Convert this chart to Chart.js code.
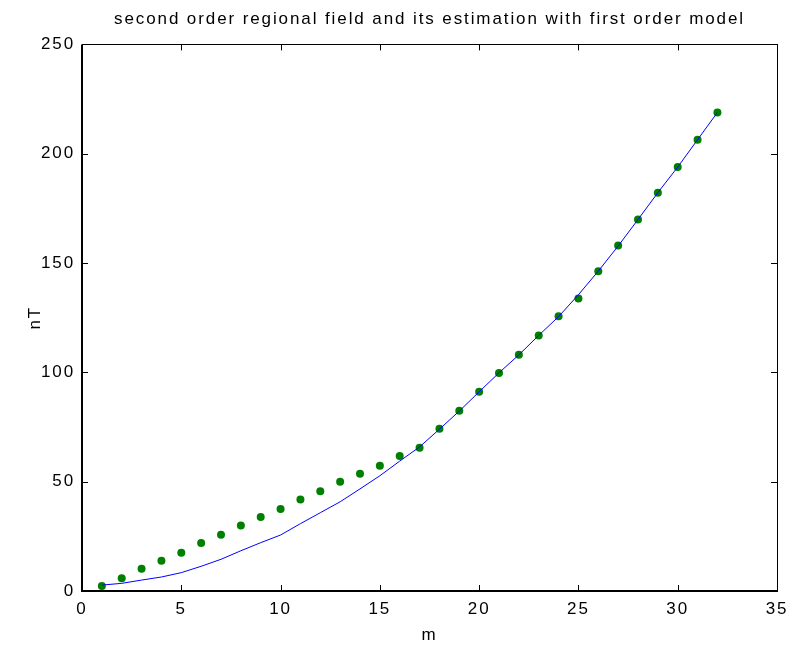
<!DOCTYPE html>
<html>
<head>
<meta charset="utf-8">
<script src="https://cdn.jsdelivr.net/npm/chart.js@4"></script>
<style>
  html, body { margin: 0; padding: 0; background: #fff; }
  #wrap { width: 789px; height: 646px; }
</style>
</head>
<body>
<div id="wrap"><canvas id="c" width="789" height="646"></canvas></div>
<script>
// ---- data ----
const titleText = "second order regional field and its estimation with first order model";
const xLabel = "m";
const yLabel = "nT";
const positions = [1,2,3,4,5,6,7,8,9,10,11,12,13,14,15,16,17,18,19,20,21,22,23,24,25,26,27,28,29,30,31,32];
const regionalField = [2.7,3.5,5.0,6.4,8.4,11.3,14.5,18.4,22.1,25.6,30.8,35.8,40.8,46.7,52.7,59.4,65.9,74.0,82.3,91.1,99.8,108.0,116.9,125.5,135.5,146.3,157.8,169.9,182.2,193.9,206.4,218.9];
const estimation = [2.3,5.8,10.2,13.8,17.5,21.9,25.7,30.0,33.8,37.5,41.9,45.6,50.0,53.6,57.3,61.7,65.5,74.2,82.4,91.1,99.7,108.0,116.9,125.7,133.8,146.3,158.0,169.9,182.2,193.9,206.4,218.9];
const xTicks = [0,5,10,15,20,25,30,35];
const yTicks = [0,50,100,150,200,250];

const FONT = "'Liberation Sans', Arial, Helvetica, sans-serif";
const SPACING = '1.9px';

const spacing = {
  id: 'spacing',
  beforeInit(chart) { chart.ctx.letterSpacing = SPACING; },
  beforeLayout(chart) { chart.ctx.letterSpacing = SPACING; },
  afterLayout(chart) {
    // centre the title over the plot area
    if (chart.titleBlock) {
      chart.titleBlock.left = chart.chartArea.left;
      chart.titleBlock.right = chart.chartArea.right;
    }
  },
  beforeDraw(chart) { chart.ctx.letterSpacing = SPACING; }
};

const boxTicks = {
  id: 'boxTicks',
  afterDraw(chart) {
    const {ctx, chartArea: a, scales} = chart;
    ctx.save();
    ctx.strokeStyle = '#000';
    ctx.lineWidth = 1;
    ctx.beginPath();
    const L = 6;
    xTicks.forEach(v => {
      const px = Math.round(scales.x.getPixelForValue(v)) + 0.5;
      ctx.moveTo(px, a.bottom); ctx.lineTo(px, a.bottom - L);
      ctx.moveTo(px, a.top); ctx.lineTo(px, a.top + L);
    });
    yTicks.forEach(v => {
      const py = Math.round(scales.y.getPixelForValue(v)) + 0.5;
      ctx.moveTo(a.left, py); ctx.lineTo(a.left + L, py);
      ctx.moveTo(a.right, py); ctx.lineTo(a.right - L, py);
    });
    ctx.stroke();
    ctx.strokeRect(Math.round(a.left) + 0.5, Math.round(a.top) + 0.5, Math.round(a.right - a.left), Math.round(a.bottom - a.top));
    ctx.lineWidth = 2;
    ctx.beginPath();
    ctx.moveTo(Math.round(a.left), a.top);
    ctx.lineTo(Math.round(a.left), a.bottom);
    ctx.lineTo(a.right, a.bottom);
    ctx.stroke();
    ctx.restore();
  }
};

new Chart(document.getElementById('c'), {
  type: 'scatter',
  data: {
    datasets: [
      {
        type: 'line',
        label: 'regional field',
        data: positions.map((x, i) => ({x, y: regionalField[i]})),
        borderColor: '#0000ff',
        borderWidth: 1,
        pointRadius: 0,
        fill: false,
        tension: 0
      },
      {
        label: 'estimation',
        data: positions.map((x, i) => ({x, y: estimation[i]})),
        backgroundColor: '#008000',
        borderColor: '#008000',
        pointRadius: 4,
        pointBorderWidth: 0
      }
    ]
  },
  options: {
    responsive: false,
    animation: false,
    devicePixelRatio: 1,
    layout: { padding: { left: 0, right: 12, top: 0, bottom: 0 } },
    plugins: {
      legend: { display: false },
      tooltip: { enabled: false },
      title: {
        display: true,
        text: titleText,
        color: '#000',
        font: { family: FONT, size: 17, weight: 'normal' },
        padding: { top: 9, bottom: 15 }
      }
    },
    scales: {
      x: {
        type: 'linear',
        min: 0, max: 35,
        afterBuildTicks(s) { s.ticks = xTicks.map(v => ({value: v})); },
        afterFit(s) { s.height = 55; s.paddingRight = 0; s.paddingLeft = 0; },
        grid: { display: false, drawTicks: false },
        border: { display: false },
        ticks: { color: '#000', font: { family: FONT, size: 17 }, padding: 8, maxRotation: 0 },
        title: { display: true, text: xLabel, color: '#000', font: { family: FONT, size: 17 }, padding: { top: 0, bottom: 0 } }
      },
      y: {
        type: 'linear',
        min: 0, max: 250,
        afterBuildTicks(s) { s.ticks = yTicks.map(v => ({value: v})); },
        afterFit(s) { s.width = 82; },
        grid: { display: false, drawTicks: false },
        border: { display: false },
        ticks: { color: '#000', font: { family: FONT, size: 17 }, padding: 7 },
        title: { display: true, text: yLabel, color: '#000', font: { family: FONT, size: 17 }, padding: { top: 25, bottom: 0 } }
      }
    }
  },
  plugins: [spacing, boxTicks]
});
</script>
</body>
</html>
